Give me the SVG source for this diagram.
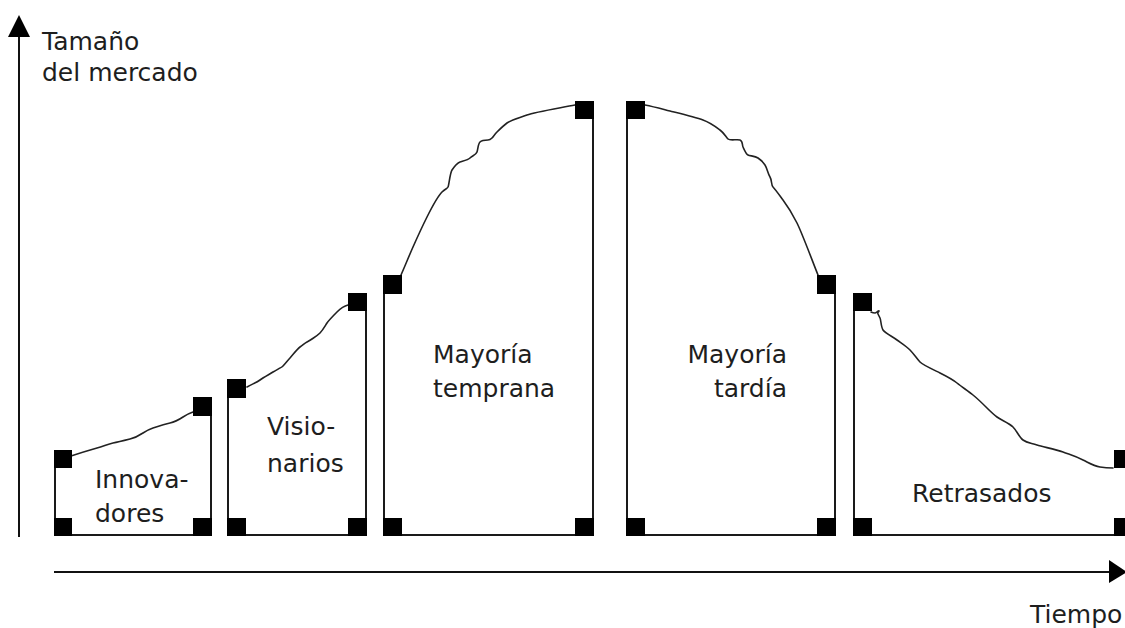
<svg xmlns="http://www.w3.org/2000/svg" width="1125" height="628" viewBox="0 0 1125 628">
<style>
.t{font-family:"DejaVu Sans","Liberation Sans",sans-serif;font-size:25px;fill:#1e1e1e}
.ax{stroke:#111;stroke-width:2;fill:none}
.box{stroke:#1a1a1a;stroke-width:2;fill:none}
.cv{stroke:#222;stroke-width:1.6;fill:none;stroke-linejoin:round;stroke-linecap:round}
.sq{fill:#000}
</style>
<rect width="1125" height="628" fill="#fff"/>
<g id="axes">
<line class="ax" x1="19" y1="35" x2="19" y2="537"/>
<polygon points="19,15 8,37 30,37" fill="#000"/>
<line class="ax" x1="54" y1="572" x2="1112" y2="572"/>
<polygon points="1127,572 1109,560 1109,583" fill="#000"/>
<text class="t" x="42" y="50">Tamaño</text>
<text class="t" x="42" y="81">del mercado</text>
<text class="t" x="1030" y="623">Tiempo</text>
</g>
<g id="innovadores">
<path class="box" d="M55,459 V535 H211 V406"/>
<path class="cv" d="M71,456 C80,453 90,450 97,448 S108,444 113,443 S126,440 130,439 S140,435 143,433 S150,429 153,428 S165,424 170,423 S180,419 183,417 S190,413 193,412"/>
<rect class="sq" x="54" y="450" width="18" height="18"/>
<rect class="sq" x="193" y="397" width="19" height="19"/>
<rect class="sq" x="54" y="518" width="18" height="18"/>
<rect class="sq" x="193" y="518" width="19" height="18"/>
<text class="t" x="95" y="488">Innova-</text>
<text class="t" x="95" y="522">dores</text>
</g>
<g id="visionarios">
<path class="box" d="M228,388 V535 H366 V302"/>
<path class="cv" d="M247,387 C252,384 256,383 260,380 S270,374 273,372 S281,368 283,366 S288,360 290,358 S297,349 300,347 S305,343 307,342 S317,336 320,333 S325,326 327,323 S334,315 337,312 S344,306 348,305"/>
<rect class="sq" x="227" y="379" width="19" height="19"/>
<rect class="sq" x="348" y="293" width="19" height="18"/>
<rect class="sq" x="227" y="518" width="19" height="18"/>
<rect class="sq" x="348" y="518" width="19" height="18"/>
<text class="t" x="267" y="435">Visio-</text>
<text class="t" x="267" y="472">narios</text>
</g>
<g id="temprana">
<path class="box" d="M384,284 V535 H593 V110"/>
<path class="cv" d="M401,275 C405,266 409,256 413,247 S423,225 427,217 S438,196 442,192 S447,189 448,187 S450,173 452,170 S457,163 460,162 S468,160 470,158 S476,155 477,152 S478,144 480,142 S486,140 488,140 S491,139 492,138 S495,134 497,132 S503,126 507,123 S519,118 527,115 S560,108 575,105"/>
<rect class="sq" x="383" y="275" width="19" height="19"/>
<rect class="sq" x="575" y="101" width="19" height="18"/>
<rect class="sq" x="383" y="518" width="19" height="18"/>
<rect class="sq" x="575" y="518" width="19" height="18"/>
<text class="t" x="433" y="363">Mayoría</text>
<text class="t" x="433" y="397">temprana</text>
</g>
<g id="tardia">
<path class="box" d="M627,110 V535 H835 V284"/>
<path class="cv" d="M645,105 C655,107 662,109 670,111 S695,117 703,120 S716,127 720,130 S726,137 728,139 S737,139 740,140 S742,145 743,147 S746,154 748,155 S755,156 758,158 S763,162 765,165 S768,174 770,177 S771,185 773,187 S780,196 783,200 S792,213 797,223 S812,260 818,275"/>
<rect class="sq" x="626" y="101" width="19" height="18"/>
<rect class="sq" x="817" y="275" width="19" height="19"/>
<rect class="sq" x="626" y="518" width="19" height="18"/>
<rect class="sq" x="817" y="518" width="19" height="18"/>
<text class="t" x="787" y="363" text-anchor="end">Mayoría</text>
<text class="t" x="787" y="397" text-anchor="end">tardía</text>
</g>
<g id="retrasados">
<path class="box" d="M854,302 V535 H1131 V459"/>
<path class="cv" d="M871,312 C873,313 874,313 875,313 S879,310 879,311 S877,312 878,314 S879,316 880,318 S881,327 883,330 S893,337 897,340 S906,346 910,350 S917,359 920,362 S934,370 940,373 S952,379 957,383 S968,391 973,395 S983,404 987,408 S993,414 997,417 S1009,423 1013,427 S1019,437 1023,440 S1031,443 1037,445 S1055,449 1063,452 S1075,456 1083,460 S1094,466 1100,467 S1109,468 1113,468"/>
<rect class="sq" x="853" y="293" width="19" height="18"/>
<rect class="sq" x="1114" y="450" width="19" height="18"/>
<rect class="sq" x="853" y="518" width="19" height="18"/>
<rect class="sq" x="1114" y="518" width="19" height="18"/>
<text class="t" x="912" y="502">Retrasados</text>
</g>
</svg>
